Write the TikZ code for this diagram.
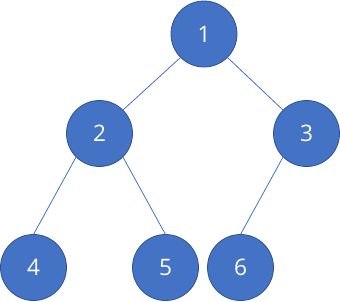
\documentclass[tikz,border=0pt]{standalone}
\usepackage{fontspec}
\setmainfont{Open Sans}
\definecolor{nodeblue}{HTML}{4472C4}
\definecolor{rimblue}{HTML}{2F528F}
\tikzset{
    treenode/.style={circle, fill=nodeblue, draw=rimblue, line width=0.6pt,
        minimum size=49.5pt, inner sep=0pt, outer sep=0pt, text=white,
        font=\fontsize{17}{20}\selectfont},
    treeedge/.style={nodeblue, line width=0.6pt}
}
\begin{document}
\begin{tikzpicture}[x=0.75pt, y=-0.75pt]
    \useasboundingbox (0,0) rectangle (340,301);

    \node[treenode] (n1) at (204,34) {1};
    \node[treenode] (n2) at (99.5,133.5) {2};
    \node[treenode] (n3) at (306.5,133.5) {3};
    \node[treenode] (n4) at (33.5,267.5) {4};
    \node[treenode] (n5) at (165.5,267.5) {5};
    \node[treenode] (n6) at (240.5,267.5) {6};

    \draw[treeedge] (n1.south west) -- (n2.north east);
    \draw[treeedge] (n1.south east) -- (n3.north west);
    \draw[treeedge] (n2.south west) -- (n4.north);
    \draw[treeedge] (n2.south east) -- (n5.north);
    \draw[treeedge] (n3.south west) -- (n6.north);
\end{tikzpicture}
\end{document}
